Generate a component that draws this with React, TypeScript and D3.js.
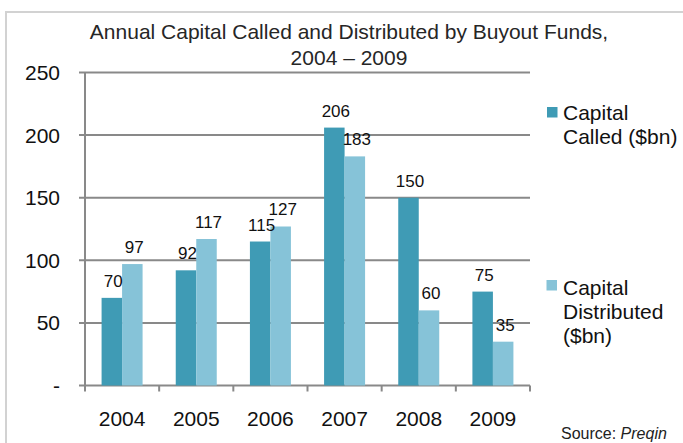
import React from "react";
import * as d3 from "d3";

const years = ["2004", "2005", "2006", "2007", "2008", "2009"];
const called = [70, 92, 115, 206, 150, 75];
const distributed = [97, 117, 127, 183, 60, 35];
const yTicks = [0, 50, 100, 150, 200, 250];

const W = 683, H = 443;
const left = 85, right = 530, top = 72.5, bottom = 385.5;
const C1 = "#3f9bb5", C2 = "#86c3d8", GRID = "#898989";
const FONT = "'Liberation Sans', Arial, sans-serif";

export default function App() {
  const x = d3.scaleBand<string>().domain(years).range([left, right]).paddingInner(0).paddingOuter(0);
  const y = d3.scaleLinear().domain([0, 250]).range([bottom, top]);
  const bw = x.bandwidth();
  const barW = 20.5;
  const off = (bw - 2 * barW) / 2;
  return (
    <svg width={W} height={H} style={{ position: "absolute", left: 0, top: 0, background: "#fff" }} fontFamily={FONT}>
      <path d={`M6,${H} L6,12 L${W},12`} fill="none" stroke="#d2d2d2" strokeWidth={2} />
      <text x={349} y={39} textAnchor="middle" fontSize={21} fill="#262626">Annual Capital Called and Distributed by Buyout Funds,</text>
      <text x={349} y={65} textAnchor="middle" fontSize={21} fill="#262626">2004 – 2009</text>
      {yTicks.map((t) => (
        <g key={t}>
          <line x1={79} x2={right} y1={y(t)} y2={y(t)} stroke={GRID} strokeWidth={2} />
          <text x={60} y={y(t) + 7.5} textAnchor="end" fontSize={21} fill="#111">{t === 0 ? "-" : t}</text>
        </g>
      ))}
      <line x1={left} x2={left} y1={top} y2={bottom + 6} stroke={GRID} strokeWidth={2} />
      {years.map((yr, i) => {
        const x0 = x(yr)!;
        return (
          <g key={yr}>
            <rect x={x0 + off} y={y(called[i])} width={barW} height={y(0) - y(called[i])} fill={C1} />
            <rect x={x0 + off + barW} y={y(distributed[i])} width={barW} height={y(0) - y(distributed[i])} fill={C2} />
            <text x={x0 + off + barW / 2 + 1.5} y={y(called[i]) - 11} textAnchor="middle" fontSize={17} fill="#111">{called[i]}</text>
            <text x={x0 + off + barW * 1.5 + 2} y={y(distributed[i]) - 11} textAnchor="middle" fontSize={17} fill="#111">{distributed[i]}</text>
            <text x={x0 + bw / 2} y={426} textAnchor="middle" fontSize={21} fill="#111">{yr}</text>
          </g>
        );
      })}
      {years.map((yr) => (
        <line key={"t" + yr} x1={x(yr)! + bw} x2={x(yr)! + bw} y1={bottom} y2={bottom + 6} stroke={GRID} strokeWidth={2} />
      ))}
      <rect x={547} y={107} width={10.5} height={10.5} fill={C1} />
      <text x={563} y={120} fontSize={21} fill="#111">Capital</text>
      <text x={563} y={144} fontSize={21} fill="#111">Called ($bn)</text>
      <rect x={546.5} y={280} width={10.5} height={10.5} fill={C2} />
      <text x={563} y={295} fontSize={21} fill="#111">Capital</text>
      <text x={563} y={319} fontSize={21} fill="#111">Distributed</text>
      <text x={563} y={343} fontSize={21} fill="#111">($bn)</text>
      <text x={561} y={438.5} fontSize={16} fill="#222">Source: <tspan fontStyle="italic">Preqin</tspan></text>
    </svg>
  );
}
